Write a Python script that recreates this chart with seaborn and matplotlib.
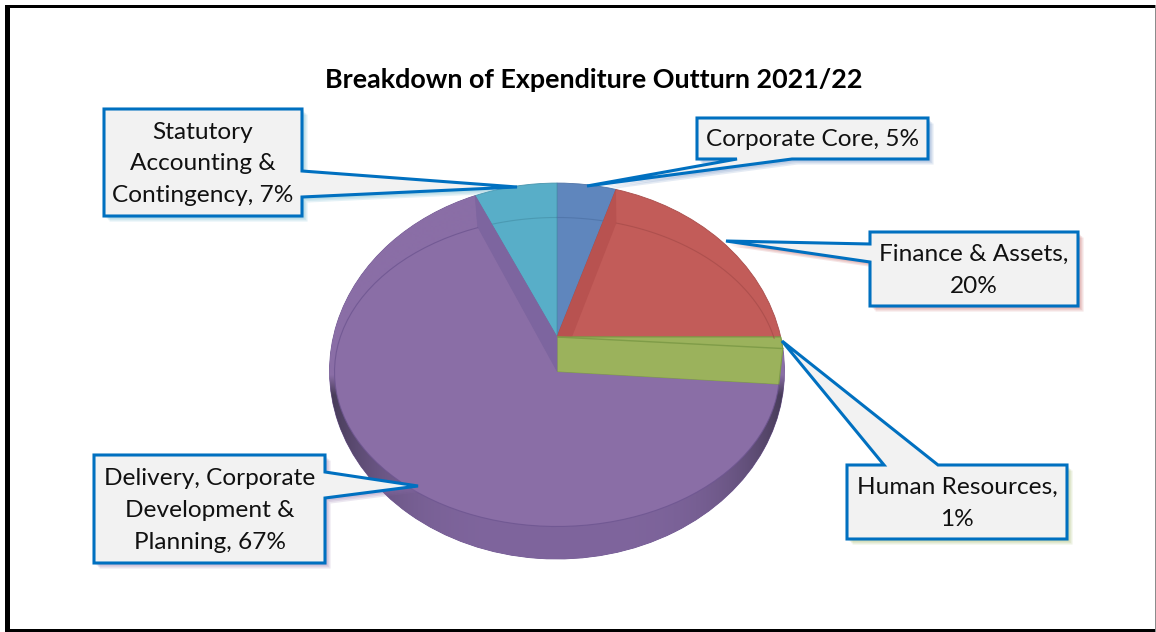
import numpy as np
import matplotlib
matplotlib.use('Agg')
import matplotlib.pyplot as plt
import matplotlib.patches as mpatches
import matplotlib.patheffects as pe
import matplotlib.transforms as mtransforms
import seaborn as sns

# data
categories = ['Corporate Core', 'Finance & Assets', 'Human Resources',
              'Delivery, Corporate Development & Planning',
              'Statutory Accounting & Contingency']
values = [5, 20, 1, 67, 7]
label_text = ['Corporate Core, 5%', 'Finance & Assets,\n20%', 'Human Resources,\n1%',
              'Delivery, Corporate\nDevelopment &\nPlanning, 67%',
              'Statutory\nAccounting &\nContingency, 7%']
title = 'Breakdown of Expenditure Outturn 2021/22'

sns.set_theme(style='white')
plt.rcParams['font.family'] = ['Lato', 'DejaVu Sans']

palette = sns.color_palette(['#5f86bd', '#c25c59', '#9bb25c', '#8a6ea6', '#58aec8'])
dark_edges = sns.color_palette(['#4f74a8', '#a94d4b', '#7f9c48', '#6d5590', '#4895ad'])
BLUE, RED, GREEN, PURPLE, TEAL = range(5)


class Perspective(mtransforms.Transform):
    # maps the unit circle of ax.pie on to the tilted disc, in pixels
    input_dims = 2
    output_dims = 2
    is_separable = False
    has_inverse = False

    def __init__(self, cx, cy, a, b, k):
        super().__init__()
        self.cx, self.cy, self.a, self.b, self.k = cx, cy, a, b, k

    def transform_non_affine(self, xy):
        xy = np.asarray(xy, dtype=float)
        w = 1 + self.k * xy[:, 1]
        return np.column_stack([self.cx + self.a * xy[:, 0] / w,
                                self.cy - self.b * xy[:, 1] / w])


upper = Perspective(557, 337, 223.7, 181.8, 0.181)
lower = Perspective(557, 372, 222.5, 154.5, 0.0)


def at(proj, frac):
    t = 2 * np.pi * frac
    return proj.transform_non_affine(np.array([[np.sin(t), np.cos(t)]]))[0]


fig = plt.figure(figsize=(11.56, 6.32), dpi=100)
ax = fig.add_axes([0, 0, 1, 1])

wedges, _ = ax.pie(values, startangle=90, counterclock=False, radius=1)
ax.set_aspect('auto')
ax.set_xlim(0, 1156)
ax.set_ylim(632, 0)
ax.axis('off')

for i, w in enumerate(wedges):
    w.set_transform(upper + ax.transData)
    w.set_facecolor(palette[i])
    w.set_edgecolor(dark_edges[i])
    w.set_linewidth(0.6)
    w.set_zorder(2)
wedges[GREEN].set_zorder(3)

cum = np.cumsum(values) / np.sum(values)
# the lower face sits slightly rotated against the upper one
low_start = cum[2] + 0.003
low_end = cum[3] + 0.012

# side of the disc, dark towards both ends
xs = np.arange(325, 790)
ys = np.arange(175, 565)
gx, gy = np.meshgrid(xs, ys)
edge = np.abs((gx - 557) / 228) ** 4
ramp = np.clip((gy - 375) / 20, 0, 1)[..., None]
base = np.array(palette[PURPLE])
wall = np.array(matplotlib.colors.to_rgb('#7f659d'))
shade = np.array(matplotlib.colors.to_rgb('#453a56'))
side = wall + (shade - wall) * edge[..., None]
img = base * (1 - ramp) + side * ramp
im = ax.imshow(img, extent=(xs[0], xs[-1], ys[-1], ys[0]), aspect='auto', zorder=2.5)
im.set_clip_path(wedges[PURPLE])
ax.set_xlim(0, 1156)
ax.set_ylim(632, 0)

# cut faces
tip_up = upper.transform_non_affine(np.array([[0.0, 0.0]]))[0]
tip_low = lower.transform_non_affine(np.array([[0.0, 0.0]]))[0]
ax.fill(*zip(tip_up, at(upper, cum[0]), at(lower, cum[0] - 0.007), tip_up + (15, 0)),
        color='#b85250', lw=0, zorder=3)
ax.fill(*zip(tip_up, at(upper, cum[1]), at(upper, cum[2]), at(lower, low_start), tip_low),
        facecolor=palette[GREEN], edgecolor=dark_edges[GREEN], lw=0.8, zorder=3)
hr_edge = at(upper, cum[2])
ax.plot([tip_up[0], hr_edge[0]], [tip_up[1], hr_edge[1]], color=dark_edges[GREEN], lw=1.0, zorder=3.2)
ax.fill(*zip(tip_up, at(upper, cum[3]), at(lower, low_end), tip_low),
        facecolor='#7d659f', edgecolor='#7d659f', lw=0.5, zorder=3.5)

# top of the big slice
top = mpatches.Wedge((0, 0), 1, 90 - 360 * low_end, 90 - 360 * low_start,
                     facecolor=palette[PURPLE], edgecolor='none',
                     transform=lower + ax.transData, zorder=4)
ax.add_patch(top)

# rim lines
rims = [(cum[0] - 0.007, 0.215, RED), (low_start, low_end, PURPLE), (0.953, 1.0, TEAL), (0.0, 0.033, BLUE)]
for a, b, c in rims:
    pts = np.array([at(lower, f) for f in np.linspace(a, b, 80)])
    ax.plot(pts[:, 0], pts[:, 1], color=dark_edges[c], lw=0.8, alpha=0.8, zorder=5)

# callouts: box, then pointer base and tip
boxes = {
    BLUE: ((697, 118, 928, 159), [(792, 159), (587, 186), (737, 159)]),
    RED: ((870, 232, 1078, 306), [(870, 262), (726, 241), (870, 244)]),
    GREEN: ((847, 465, 1067, 539), [(884, 465), (782, 341), (938, 465)]),
    PURPLE: ((94, 455, 325, 563), [(325, 472), (418, 486), (325, 498)]),
    TEAL: ((104, 109, 302, 216), [(302, 171), (517, 187), (302, 197)]),
}


def outline(box, pointer):
    x0, y0, x1, y1 = box
    if pointer[0][1] == y1:      # bottom
        return [(x0, y0), (x1, y0), (x1, y1)] + pointer + [(x0, y1)]
    if pointer[0][1] == y0:      # top
        return [(x0, y0)] + pointer + [(x1, y0), (x1, y1), (x0, y1)]
    if pointer[0][0] == x0:      # left
        return [(x0, y0), (x1, y0), (x1, y1), (x0, y1)] + pointer
    return [(x0, y0), (x1, y0)] + pointer + [(x1, y1), (x0, y1)]


for i, (box, pointer) in boxes.items():
    effects = [pe.SimplePatchShadow(offset=(o, -o), shadow_rgbFace=palette[i], alpha=0.16)
               for o in (4, 3, 2, 1)] + [pe.Normal()]
    ax.add_patch(mpatches.Polygon(outline(box, pointer), closed=True, facecolor='#f2f2f2',
                                  edgecolor='#0070c0', lw=2.2, joinstyle='miter',
                                  path_effects=effects, zorder=6))
    ax.text((box[0] + box[2]) / 2, (box[1] + box[3]) / 2 + 1.5, label_text[i], ha='center', va='center',
            fontsize=17.6, color='#111111', linespacing=1.63, zorder=7)

ax.text(594, 80, title, ha='center', va='center', fontsize=19.4, fontweight='bold', color='black', zorder=7)

# frame of the screenshot
ax.add_patch(mpatches.Rectangle((5, 5), 1151, 3, color='black', lw=0, zorder=8))
ax.add_patch(mpatches.Rectangle((5, 5), 5, 627, color='black', lw=0, zorder=8))
ax.add_patch(mpatches.Rectangle((5, 629), 1151, 3, color='black', lw=0, zorder=8))
ax.add_patch(mpatches.Rectangle((1155, 5), 1, 627, color='#8c8c8c', lw=0, zorder=8))

fig.savefig('out.png', dpi=100)
